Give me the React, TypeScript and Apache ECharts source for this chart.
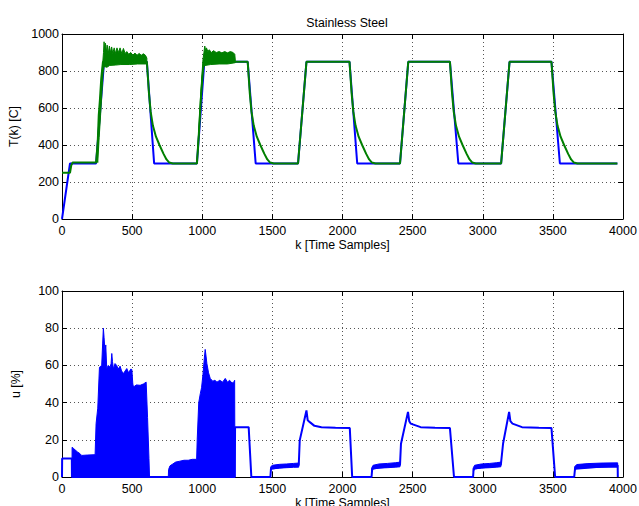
import React, { useEffect, useRef } from "react";
import * as echarts from "echarts";

type P = [number, number];

// ---------- Top plot: temperature T(k) [C] ----------
const setpointT: P[] = [
  [0, 0], [57, 300], [243, 300], [300, 850], [605, 850], [657, 300], [962, 300], [1015, 850],
  [1324, 850], [1381, 300], [1683, 300], [1743, 850], [2050, 850], [2105, 300], [2410, 300],
  [2469, 850], [2766, 850], [2826, 300], [3131, 300], [3191, 850], [3490, 850], [3550, 300], [3960, 300],
];

const measuredT: P[] = [
  [0, 250], [57, 250], [66, 290], [76, 305], [243, 305], [255, 420], [262, 560], [270, 640], [280, 760],
  [292, 850], [605, 850], [620, 680], [632, 580], [648, 505], [670, 445], [695, 400], [724, 352], [745, 322],
  [765, 305], [790, 300], [962, 300], [975, 450], [990, 650], [1005, 800], [1012, 850], [1324, 850],
  [1339, 680], [1351, 580], [1367, 505], [1389, 445], [1414, 400], [1443, 352], [1464, 322], [1484, 305], [1510, 300],
  [1683, 300], [1743, 850], [2050, 850], [2065, 680], [2077, 580], [2093, 505], [2115, 445], [2140, 400], [2169, 352],
  [2190, 322], [2210, 305], [2235, 300], [2410, 300], [2469, 850], [2766, 850], [2781, 680], [2793, 580], [2809, 505],
  [2831, 445], [2856, 400], [2885, 352], [2906, 322], [2926, 305], [2950, 300], [3131, 300], [3191, 850],
  [3490, 850], [3505, 680], [3517, 580], [3533, 505], [3555, 445], [3580, 400], [3609, 352], [3630, 322], [3650, 305],
  [3675, 300], [3960, 300],
];

// noisy envelope of the measured temperature (first two heating phases)
const tNoise1Upper: P[] = [
  [250, 330], [260, 480], [270, 610], [280, 730], [290, 840], [296, 900], [300, 958], [305, 910],
  [310, 950], [316, 900], [322, 940], [330, 895], [338, 935], [346, 900], [354, 930], [362, 895],
  [372, 925], [382, 895], [392, 925], [402, 900], [414, 925], [426, 895], [438, 922], [450, 895],
  [462, 905], [476, 890], [490, 900], [505, 885], [520, 897], [535, 885], [550, 895], [565, 885],
  [580, 893], [595, 885], [605, 870],
];
const tNoise1Lower: P[] = [
  [255, 305], [265, 440], [275, 560], [285, 690], [293, 790], [300, 825], [320, 820], [340, 830],
  [380, 832], [420, 835], [480, 835], [540, 838], [600, 838], [605, 845],
];
const tNoise2Upper: P[] = [
  [962, 305], [975, 480], [990, 690], [1005, 860], [1012, 900], [1018, 935], [1024, 910], [1030, 925],
  [1040, 905], [1050, 915], [1065, 900], [1080, 910], [1100, 900], [1120, 905], [1140, 898], [1160, 905],
  [1180, 898], [1200, 905], [1220, 900], [1232, 890], [1236, 855],
];
const tNoise2Lower: P[] = [
  [962, 300], [972, 400], [985, 590], [998, 760], [1008, 820], [1020, 830], [1060, 835], [1120, 838],
  [1180, 838], [1236, 845],
];

// ---------- Bottom plot: control signal u [%] ----------
const controlU: P[] = [
  [0, 0], [1, 10], [70, 10], [71, 0], [1232, 0], [1234, 26.8], [1331, 26.8], [1350, 0], [1486, 0],
  [1490, 4.5], [1688, 6.3], [1695, 19.7], [1743, 35.8], [1752, 30.5], [1767, 29.5], [1800, 27.5],
  [1850, 26.8], [1950, 26.5], [2052, 26.3], [2069, 0], [2207, 0], [2212, 4.5], [2410, 6.5], [2417, 17.9],
  [2467, 35], [2476, 30], [2486, 28.7], [2557, 26.8], [2660, 26.5], [2766, 26.3], [2795, 0], [2931, 0],
  [2935, 4.5], [3129, 6.5], [3145, 18], [3188, 35], [3197, 30], [3212, 28.7], [3280, 26.8], [3400, 26.5],
  [3490, 26.3], [3516, 0], [3652, 0], [3658, 4.5], [3962, 6.3], [3963, 0],
];

// dense (chattering) parts of u: envelope of the fill
const uDense1: P[] = [
  [71, 0], [72, 16], [80, 15.5], [93, 14.6], [110, 13.5], [129, 12.5], [140, 11.6], [180, 11.8], [236, 12],
  [243, 28.7], [255, 37], [267, 59], [283, 60], [290, 72], [295, 80], [300, 75], [307, 67], [312, 71],
  [319, 58.3], [330, 60], [343, 59], [350, 61], [355, 66.4], [360, 62], [367, 58], [378, 61], [390, 60],
  [400, 58], [414, 59.6], [425, 57], [438, 55.6], [450, 57], [462, 58.3], [475, 56], [490, 58], [498, 57.8],
  [505, 50], [510, 48.4], [530, 49.5], [557, 49.3], [580, 50], [600, 51], [610, 32], [620, 10], [624, 0],
];
const uDense2: P[] = [
  [758, 0], [760, 4], [770, 6], [790, 7], [810, 8], [840, 8.5], [870, 9], [900, 9], [930, 9.5], [960, 9.5],
  [964, 20], [975, 40], [986, 44.8], [995, 48], [1005, 55], [1015, 64], [1021, 68.6], [1027, 65],
  [1033, 61], [1045, 56], [1057, 53], [1075, 51.5], [1090, 52], [1105, 51], [1125, 52], [1145, 51],
  [1164, 53], [1180, 51], [1195, 52], [1212, 50.5], [1225, 51], [1231, 52], [1233, 0],
];

// thin noisy bands of u in the low phases
const uBandAUpper: P[] = [[1488, 5.5], [1500, 6.3], [1550, 6.8], [1600, 7], [1650, 7.3], [1688, 7.5]];
const uBandALower: P[] = [[1488, 3.5], [1500, 4.3], [1550, 4.8], [1600, 5], [1650, 5.2], [1688, 5.3]];
const uBandBUpper: P[] = [[2209, 5], [2218, 6.3], [2260, 7], [2320, 7.3], [2380, 7.7], [2410, 8]];
const uBandBLower: P[] = [[2209, 3], [2218, 4.3], [2260, 4.8], [2320, 5], [2380, 5.3], [2410, 5.5]];
const uBandCUpper: P[] = [[2933, 5], [2942, 6.3], [2990, 7], [3050, 7.3], [3100, 7.7], [3129, 8]];
const uBandCLower: P[] = [[2933, 3], [2942, 4.3], [2990, 4.8], [3050, 5], [3100, 5.3], [3129, 5.5]];
const uBandDUpper: P[] = [[3655, 5.5], [3670, 6.7], [3750, 7.2], [3850, 7.5], [3962, 7.6]];
const uBandDLower: P[] = [[3655, 3.5], [3670, 4.6], [3750, 5], [3850, 5.2], [3962, 5.3]];

const BLUE = "#0000ff";
const GREEN = "#007f00";
const FONT = "Liberation Sans, Arial, Helvetica, sans-serif";
const plain = (v: number) => String(v);

function band(upper: P[], lower: P[], color: string, idx: number) {
  return {
    type: "custom",
    xAxisIndex: idx * 2,
    yAxisIndex: idx * 2,
    silent: true,
    z: 4,
    data: [upper[0]],
    renderItem: (_params: any, api: any) => {
      const pts = upper
        .map((p) => api.coord(p))
        .concat(lower.slice().reverse().map((p) => api.coord(p)));
      return {
        type: "polygon",
        shape: { points: pts },
        style: { fill: color, stroke: color, lineWidth: 1 },
      };
    },
  };
}

function line(data: P[], color: string, idx: number, width = 2, area = false) {
  return {
    type: "line",
    xAxisIndex: idx * 2,
    yAxisIndex: idx * 2,
    data,
    showSymbol: false,
    symbol: "none",
    silent: true,
    z: 3,
    lineStyle: { color, width },
    areaStyle: area ? { color, opacity: 1 } : undefined,
  };
}

function xAxes(gridIndex: number) {
  const common = {
    gridIndex,
    type: "value",
    min: 0,
    max: 4000,
    interval: 500,
    axisLine: { show: true, onZero: false, lineStyle: { color: "#000", width: 1 } },
    axisTick: { show: true, inside: true, length: 5, lineStyle: { color: "#000" } },
  };
  return [
    {
      ...common,
      position: "bottom",
      axisLabel: { color: "#000", fontSize: 12.5, fontFamily: FONT, margin: 5, formatter: plain },
      splitLine: { show: true, lineStyle: { color: "#555", type: [1, 3], width: 1 } },
      name: "k [Time Samples]",
      nameLocation: "middle",
      nameGap: 20,
      nameTextStyle: { color: "#000", fontSize: 12.3, fontFamily: FONT, verticalAlign: "top" },
    },
    {
      ...common,
      position: "top",
      axisLabel: { show: false },
      splitLine: { show: false },
    },
  ];
}

function yAxes(gridIndex: number, max: number, interval: number, name: string) {
  const common = {
    gridIndex,
    type: "value",
    min: 0,
    max,
    interval,
    axisLine: { show: true, onZero: false, lineStyle: { color: "#000", width: 1 } },
    axisTick: { show: true, inside: true, length: 5, lineStyle: { color: "#000" } },
  };
  return [
    {
      ...common,
      position: "left",
      axisLabel: { color: "#000", fontSize: 12.5, fontFamily: FONT, margin: 3, formatter: plain },
      splitLine: { show: true, lineStyle: { color: "#555", type: [1, 3], width: 1 } },
      name,
      nameLocation: "middle",
      nameGap: 40,
      nameTextStyle: { color: "#000", fontSize: 12.3, fontFamily: FONT },
    },
    {
      ...common,
      position: "right",
      axisLabel: { show: false },
      splitLine: { show: false },
    },
  ];
}

export default function App() {
  const ref = useRef<HTMLDivElement>(null);

  useEffect(() => {
    if (!ref.current) return;
    const chart = echarts.init(ref.current, undefined, { renderer: "svg" });
    chart.setOption({
      animation: false,
      backgroundColor: "#fff",
      title: {
        text: "Stainless Steel",
        left: 342,
        textAlign: "center",
        top: 12,
        textStyle: { color: "#000", fontSize: 12.3, fontWeight: "normal", fontFamily: FONT },
      },
      grid: [
        { left: 62, top: 34, width: 561, height: 185, containLabel: false, outerBoundsMode: "none" },
        { left: 62, top: 291, width: 561, height: 186, containLabel: false, outerBoundsMode: "none" },
      ],
      xAxis: [...xAxes(0), ...xAxes(1)],
      yAxis: [...yAxes(0, 1000, 200, "T(k) [C]"), ...yAxes(1, 100, 20, "u [%]")],
      series: [
        line(setpointT, BLUE, 0),
        line(measuredT, GREEN, 0),
        band(tNoise1Upper, tNoise1Lower, GREEN, 0),
        band(tNoise2Upper, tNoise2Lower, GREEN, 0),
        line(uDense1, BLUE, 1, 1, true),
        line(uDense2, BLUE, 1, 1, true),
        line(controlU, BLUE, 1, 2),
        band(uBandAUpper, uBandALower, BLUE, 1),
        band(uBandBUpper, uBandBLower, BLUE, 1),
        band(uBandCUpper, uBandCLower, BLUE, 1),
        band(uBandDUpper, uBandDLower, BLUE, 1),
      ],
    });
    return () => chart.dispose();
  }, []);

  return (
    <div
      ref={ref}
      style={{ position: "absolute", left: 0, top: 0, width: 639, height: 506 }}
    />
  );
}
